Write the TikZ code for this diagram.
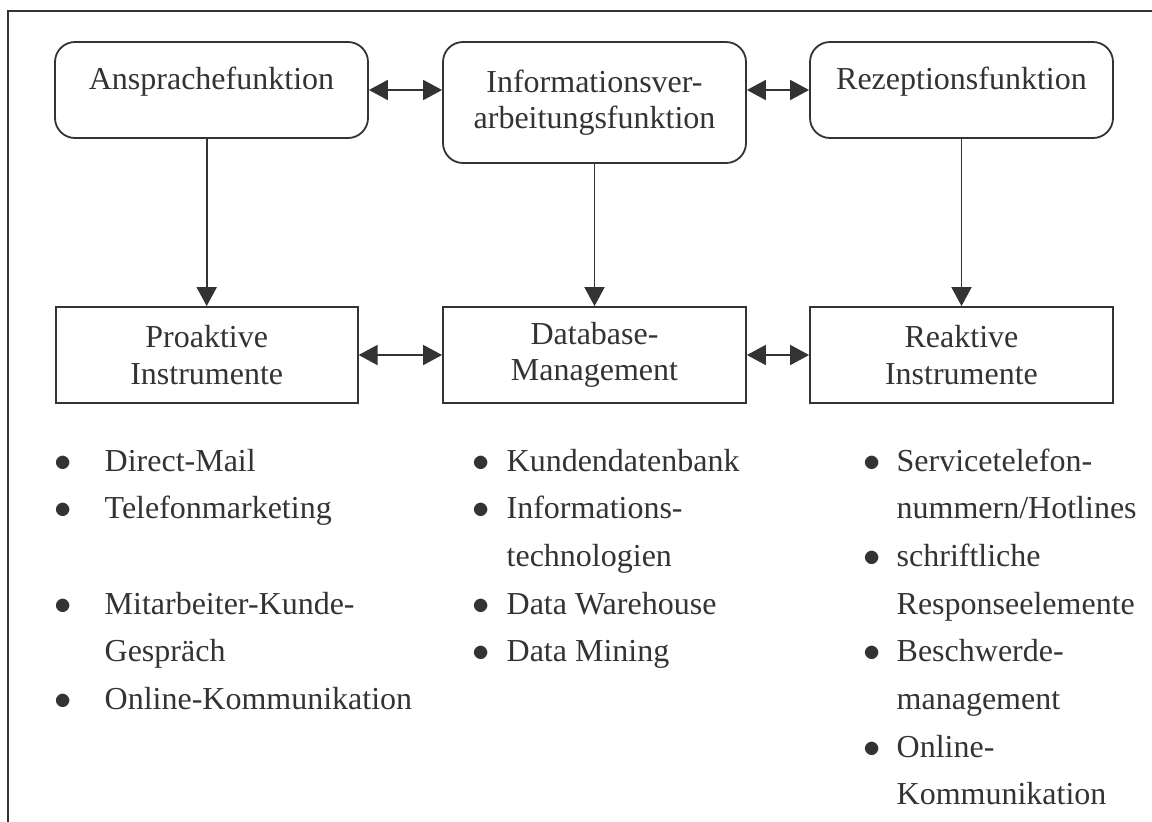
\documentclass[tikz,border=0pt]{standalone}
\usepackage{fontspec}
\setmainfont{Liberation Serif}
\usetikzlibrary{arrows.meta}
\definecolor{ink}{HTML}{333333}
\newcommand{\itembullet}{$\bullet$}
\begin{document}
\begin{tikzpicture}[x=0.5pt,y=-0.5pt,
  every node/.style={text=ink, font=\fontsize{16}{18.3}\selectfont},
  funcbox/.style={draw=ink, line width=0.9pt, rounded corners=10pt, align=center, inner sep=0pt},
  instbox/.style={draw=ink, line width=0.9pt, align=center, inner sep=0pt, minimum width=151pt, minimum height=48pt},
  arr/.style={draw=ink, line width=0.9pt, -{Triangle[length=9.5pt,width=10pt]}},
  darr/.style={draw=ink, line width=0.9pt, {Triangle[length=9.5pt,width=10pt]}-{Triangle[length=9.5pt,width=10pt]}},
  listnode/.style={anchor=base west, inner sep=0pt, font=\fontsize{16}{23.85}\selectfont}
]
\useasboundingbox (0,0) rectangle (1152,821);
\draw[ink, line width=0.9pt] (8,830) -- (8,11) -- (1160,11);

% top function boxes
\node[funcbox, minimum width=156.5pt, minimum height=48pt, text height=11pt, text depth=12pt] (A) at (211.5,90) {Ansprachefunktion};
\node[funcbox, minimum width=151.5pt, minimum height=60.5pt] (I) at (594.5,102.5) {Informationsver-\\arbeitungsfunktion};
\node[funcbox, minimum width=151.5pt, minimum height=48pt, text height=11pt, text depth=12pt] (R) at (961.5,90) {Rezeptionsfunktion};

% instrument boxes
\node[instbox] (P) at (206.7,355) {Proaktive\\Instrumente};
\node[instbox, minimum width=151.5pt] (D) at (594.5,355) {Database-\\Management};
\node[instbox, minimum width=151.5pt] (K) at (961.5,355) {Reaktive\\Instrumente};

% connectors
\draw[darr] (A.east) -- (A.east -| I.west);
\draw[darr] (I.east |- R.west) -- (R.west);
\draw[darr] (P.east) -- (D.west);
\draw[darr] (D.east) -- (K.west);
\draw[arr] (A.south -| P.north) -- (P.north);
\draw[arr] (I.south -| D.north) -- (D.north);
\draw[arr] (R.south -| K.north) -- (K.north);

% lists
\node[listnode] (L1) at (54,471) {\begin{tabular}[t]{@{}l@{\hspace{16.5pt}}l@{}}
\itembullet & Direct-Mail\\
\itembullet & Telefonmarketing\\
 & \\
\itembullet & Mitarbeiter-Kunde-\\
 & Gespräch\\
\itembullet & Online-Kommunikation
\end{tabular}};
\node[listnode] (L2) at (472,471) {\begin{tabular}[t]{@{}l@{\hspace{8.5pt}}l@{}}
\itembullet & Kundendatenbank\\
\itembullet & Informations-\\
 & technologien\\
\itembullet & Data Warehouse\\
\itembullet & Data Mining
\end{tabular}};
\node[listnode] (L3) at (863,471) {\begin{tabular}[t]{@{}l@{\hspace{8pt}}l@{}}
\itembullet & Servicetelefon-\\
 & nummern/Hotlines\\
\itembullet & schriftliche\\
 & Responseelemente\\
\itembullet & Beschwerde-\\
 & management\\
\itembullet & Online-\\
 & Kommunikation
\end{tabular}};
\end{tikzpicture}
\end{document}
